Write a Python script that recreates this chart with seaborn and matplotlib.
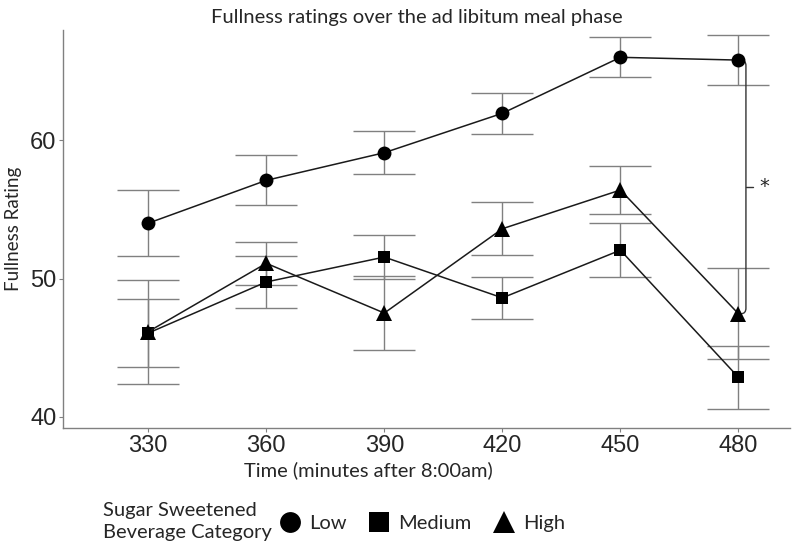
import matplotlib.pyplot as plt
from matplotlib.path import Path
import matplotlib.patches as patches
from matplotlib.lines import Line2D
import seaborn as sns
import pandas as pd

# data
times = [330, 360, 390, 420, 450, 480]
categories = ["Low", "Medium", "High"]
low_mean = [54.0, 57.1, 59.1, 61.95, 66.0, 65.8]
low_err = [2.4, 1.8, 1.55, 1.5, 1.45, 1.8]
medium_mean = [46.05, 49.75, 51.55, 48.6, 52.05, 42.85]
medium_err = [2.45, 1.85, 1.6, 1.5, 1.97, 2.27]
high_mean = [46.15, 51.1, 47.5, 53.6, 56.4, 47.45]
high_err = [3.75, 1.55, 2.7, 1.9, 1.73, 3.3]

means = {"Low": low_mean, "Medium": medium_mean, "High": high_mean}
errs = {"Low": low_err, "Medium": medium_err, "High": high_err}
markers = {"Low": "o", "Medium": "s", "High": "^"}
msizes = {"Low": 10, "Medium": 9, "High": 11}

rows = []
for cat in categories:
    for t, m in zip(times, means[cat]):
        rows.append({"Time": t, "Rating": m, "Category": cat})
df = pd.DataFrame(rows)

sns.set_style("white")
plt.rcParams['font.family'] = ['Lato', 'DejaVu Sans']

fig = plt.figure(figsize=(8, 5.52), dpi=100)
ax = fig.add_axes([0.079, 0.225, 0.909, 0.72])

# error bars
for cat in categories:
    ax.errorbar(times, means[cat], yerr=errs[cat], fmt='none',
                ecolor='#808080', elinewidth=1.0, capsize=22, capthick=1.0, zorder=1)

sns.lineplot(data=df, x="Time", y="Rating", style="Category",
             markers=markers, dashes=False, color='#1a1a1a', linewidth=1.1,
             ax=ax, legend=False, zorder=3, markersize=10)
# adjust marker sizes per category
for line, cat in zip(ax.get_lines()[-3:], categories):
    line.set_markersize(msizes[cat])
    line.set_markeredgewidth(0)
    line.set_markerfacecolor('black')

ax.set_xlim(308.4, 493.2)
ax.set_ylim(39.2, 67.95)
ax.set_xticks(times)
ax.set_yticks([40, 50, 60])
ax.tick_params(axis='both', length=3, width=0.8, color='#808080', bottom=True, left=True,
               pad=2, labelsize=17, labelfontfamily='Liberation Sans')

for side in ['top', 'right']:
    ax.spines[side].set_visible(False)
for side in ['left', 'bottom']:
    ax.spines[side].set_color('#808080')
    ax.spines[side].set_linewidth(1.0)

ax.set_xlabel("Time (minutes after 8:00am)", fontsize=14.5, labelpad=2)
ax.xaxis.set_label_coords(0.42, -0.085)
ax.set_ylabel("Fullness Rating", fontsize=13.5, labelpad=6)
ax.set_title("Fullness ratings over the ad libitum meal phase", fontsize=14.5, pad=5, x=0.486)

# significance brace between Low and High at 480
y_top, y_bot = low_mean[-1], high_mean[-1]
y_mid = (y_top + y_bot) / 2
xa, xb = 480.6, 481.9
verts = [(xa, y_top), (xb, y_top), (xb, y_top - 0.4),
         (xb, y_bot + 0.4),
         (xb, y_bot), (xa, y_bot)]
codes = [Path.MOVETO, Path.CURVE3, Path.CURVE3, Path.LINETO, Path.CURVE3, Path.CURVE3]
ax.add_patch(patches.PathPatch(Path(verts, codes), fill=False, edgecolor='#333333', linewidth=1.0))
ax.plot([xb, 483.7], [y_mid, y_mid], color='#333333', linewidth=1.0)
ax.text(485.4, y_mid, "*", fontsize=14, va='center', ha='left', family='DejaVu Sans')

# legend at the bottom
fig.text(0.129, 0.055, "Sugar Sweetened\nBeverage Category", fontsize=14.5,
         va='center', ha='left', linespacing=1.35)
handles = [Line2D([], [], linestyle='none', marker=markers[c], color='black',
                  markersize=msizes[c] + 5, markeredgewidth=0) for c in categories]
fig.legend(handles, categories, loc='center left', bbox_to_anchor=(0.325, 0.052),
           ncol=3, frameon=False, fontsize=14.5, handletextpad=0.35, columnspacing=1.0,
           handlelength=1.2)

plt.savefig("out.png", dpi=100)
